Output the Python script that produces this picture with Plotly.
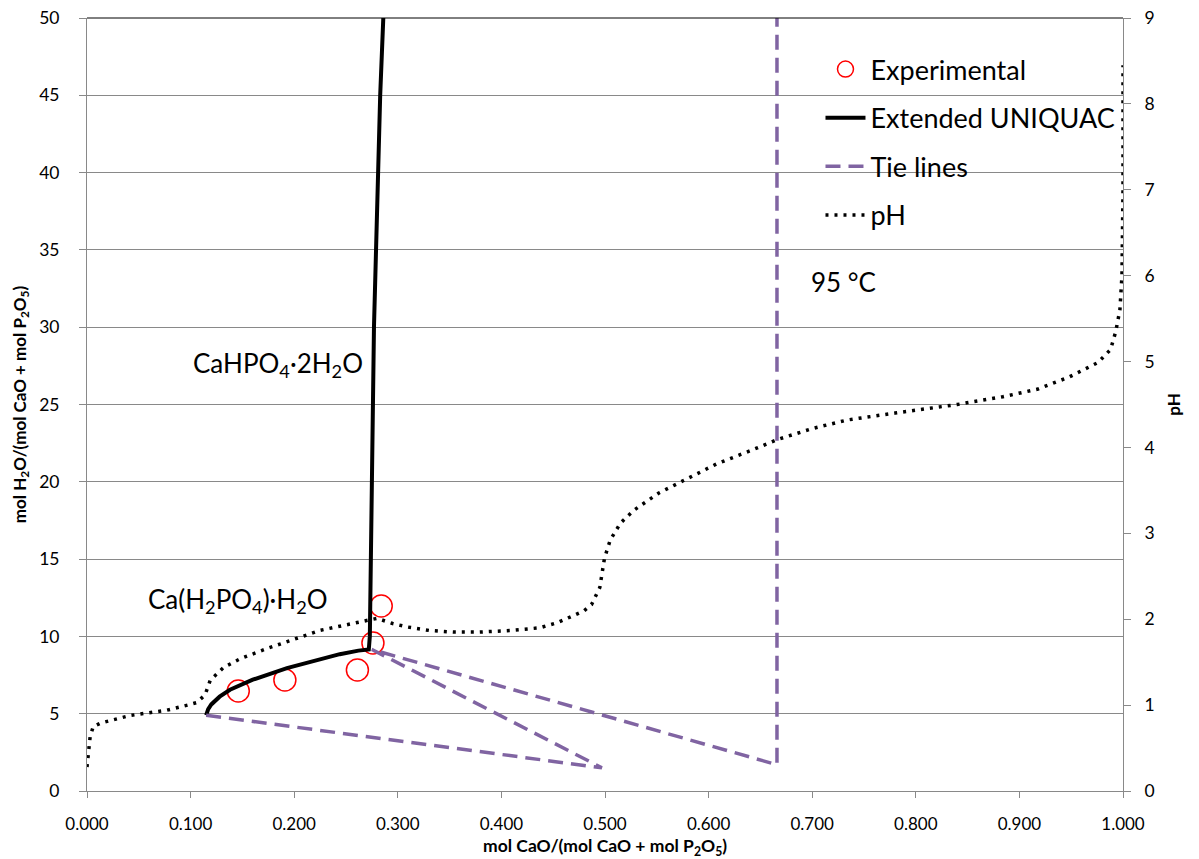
import plotly.graph_objects as go

# ---- data ----
exp_x = [0.146, 0.191, 0.261, 0.276, 0.284]
exp_y = [6.47, 7.18, 7.83, 9.57, 11.97]

uniquac_x = [0.115, 0.117, 0.120, 0.128, 0.138, 0.160, 0.193, 0.220, 0.244, 0.262, 0.272,
             0.273, 0.274, 0.275, 0.276, 0.277, 0.279, 0.281, 0.283, 0.286]
uniquac_y = [4.90, 5.30, 5.60, 6.10, 6.55, 7.20, 7.95, 8.45, 8.85, 9.08, 9.15,
             10.0, 15.0, 20.0, 25.0, 30.0, 35.0, 40.0, 45.0, 50.0]

tie_x = [0.115, 0.497, 0.275, 0.666, 0.666]
tie_y = [4.90, 1.50, 9.15, 1.70, 50.0]

ph_x = [0.000, 0.003, 0.006, 0.013, 0.042, 0.077, 0.097, 0.106, 0.114, 0.119, 0.132,
        0.148, 0.174, 0.200, 0.225, 0.264, 0.280, 0.295, 0.309, 0.330, 0.354, 0.379,
        0.410, 0.437, 0.454, 0.471, 0.480, 0.487, 0.491, 0.495, 0.4995, 0.503, 0.505,
        0.515, 0.528, 0.552, 0.576, 0.608, 0.642, 0.666, 0.700, 0.734, 0.780, 0.840,
        0.884, 0.918, 0.948, 0.976, 0.988, 0.993, 0.997, 0.999, 1.000, 1.000]
ph_y = [0.28, 0.63, 0.75, 0.79, 0.88, 0.94, 1.00, 1.03, 1.12, 1.29, 1.44,
        1.54, 1.66, 1.77, 1.87, 1.97, 2.01, 1.95, 1.91, 1.87, 1.85, 1.85,
        1.87, 1.90, 1.96, 2.05, 2.10, 2.17, 2.27, 2.37, 2.71, 2.83, 2.92,
        3.12, 3.27, 3.47, 3.62, 3.81, 3.97, 4.09, 4.22, 4.32, 4.40, 4.50,
        4.59, 4.68, 4.82, 4.99, 5.14, 5.35, 5.60, 6.00, 7.00, 8.45]

x_ticks = [0.0, 0.1, 0.2, 0.3, 0.4, 0.5, 0.6, 0.7, 0.8, 0.9, 1.0]

GRID = "#898989"
PURPLE = "#8064A2"
LABFONT = "Lato"
TICKFONT = dict(family=LABFONT, size=17.5, color="#000000")
XTICKFONT = dict(family=LABFONT, size=17, color="#000000")

fig = go.Figure()

fig.add_trace(go.Scatter(
    x=exp_x, y=exp_y, mode="markers", name="Experimental",
    marker=dict(symbol="circle-open", size=22, color="#FF0000", line=dict(width=1.5, color="#FF0000")),
    legendgroup="a"))
fig.add_trace(go.Scatter(
    x=uniquac_x, y=uniquac_y, mode="lines", name="Extended UNIQUAC",
    line=dict(color="#000000", width=4), legendgroup="b"))
fig.add_trace(go.Scatter(
    x=tie_x, y=tie_y, mode="lines", name="Tie lines",
    line=dict(color=PURPLE, width=3.5, dash="15px,8px"), legendgroup="c"))
fig.add_trace(go.Scatter(
    x=ph_x, y=ph_y, mode="lines", name="pH", yaxis="y2",
    line=dict(color="#000000", width=3.5, dash="3px,6px"), legendgroup="d"))

fig.update_layout(
    width=1199, height=859,
    margin=dict(l=87, r=76, t=18, b=68, autoexpand=False),
    paper_bgcolor="white", plot_bgcolor="white",
    showlegend=True,
    legend=dict(x=0.708, y=0.965, xanchor="left", yanchor="top",
                bgcolor="rgba(0,0,0,0)", font=dict(family=LABFONT, size=27, color="#000000"),
                tracegroupgap=10.5, traceorder="grouped", itemwidth=40),
    xaxis=dict(range=[0, 1], tickvals=x_ticks, tickformat=".3f", showgrid=False, zeroline=False,
               automargin=False,
               showline=True, linecolor=GRID, linewidth=1, ticks="outside", tickcolor=GRID, ticklen=6,
               tickfont=XTICKFONT, ticklabelstandoff=12),
    yaxis=dict(range=[0, 50], dtick=5, showgrid=True, gridcolor=GRID, gridwidth=1, zeroline=False,
               automargin=False,
               showline=True, linecolor=GRID, linewidth=1, ticks="outside", tickcolor=GRID, ticklen=7,
               tickfont=TICKFONT, ticklabelstandoff=16,
               title=dict(text="mol H<sub>2</sub>O/(mol CaO + mol P<sub>2</sub>O<sub>5</sub>)",
                          font=dict(family=LABFONT, size=17, color="#000000", weight="bold"), standoff=8)),
    yaxis2=dict(range=[0, 9], dtick=1, overlaying="y", side="right", showgrid=False, zeroline=False,
                automargin=False,
                showline=True, linecolor=GRID, linewidth=1, ticks="outside", tickcolor=GRID, ticklen=7,
                tickfont=TICKFONT, ticklabelstandoff=10,
                title=dict(text="pH", font=dict(family=LABFONT, size=17, color="#000000", weight="bold"),
                           standoff=14)),
)

fig.add_shape(type="line", xref="paper", yref="paper", x0=0, x1=1, y0=1, y1=1,
              line=dict(color="#000000", width=1))

# x-axis title
fig.add_annotation(x=0.5, y=-0.072, xref="paper", yref="paper", xanchor="center", yanchor="middle",
                   text="mol CaO/(mol CaO + mol P<sub>2</sub>O<sub>5</sub>)", showarrow=False,
                   font=dict(family=LABFONT, size=17.5, color="#000000", weight="bold"))

fig.add_annotation(x=0.1844, y=27.6, xref="x", yref="y", text="CaHPO<sub>4</sub>·2H<sub>2</sub>O",
                   showarrow=False, font=dict(family=LABFONT, size=26, color="#000000"))
fig.add_annotation(x=0.1458, y=12.35, xref="x", yref="y", text="Ca(H<sub>2</sub>PO<sub>4</sub>)·H<sub>2</sub>O",
                   showarrow=False, font=dict(family=LABFONT, size=26, color="#000000"))
fig.add_annotation(x=0.730, y=32.9, xref="x", yref="y", text="95 °C",
                   showarrow=False, font=dict(family=LABFONT, size=26, color="#000000"))

fig.write_html("out.html")
